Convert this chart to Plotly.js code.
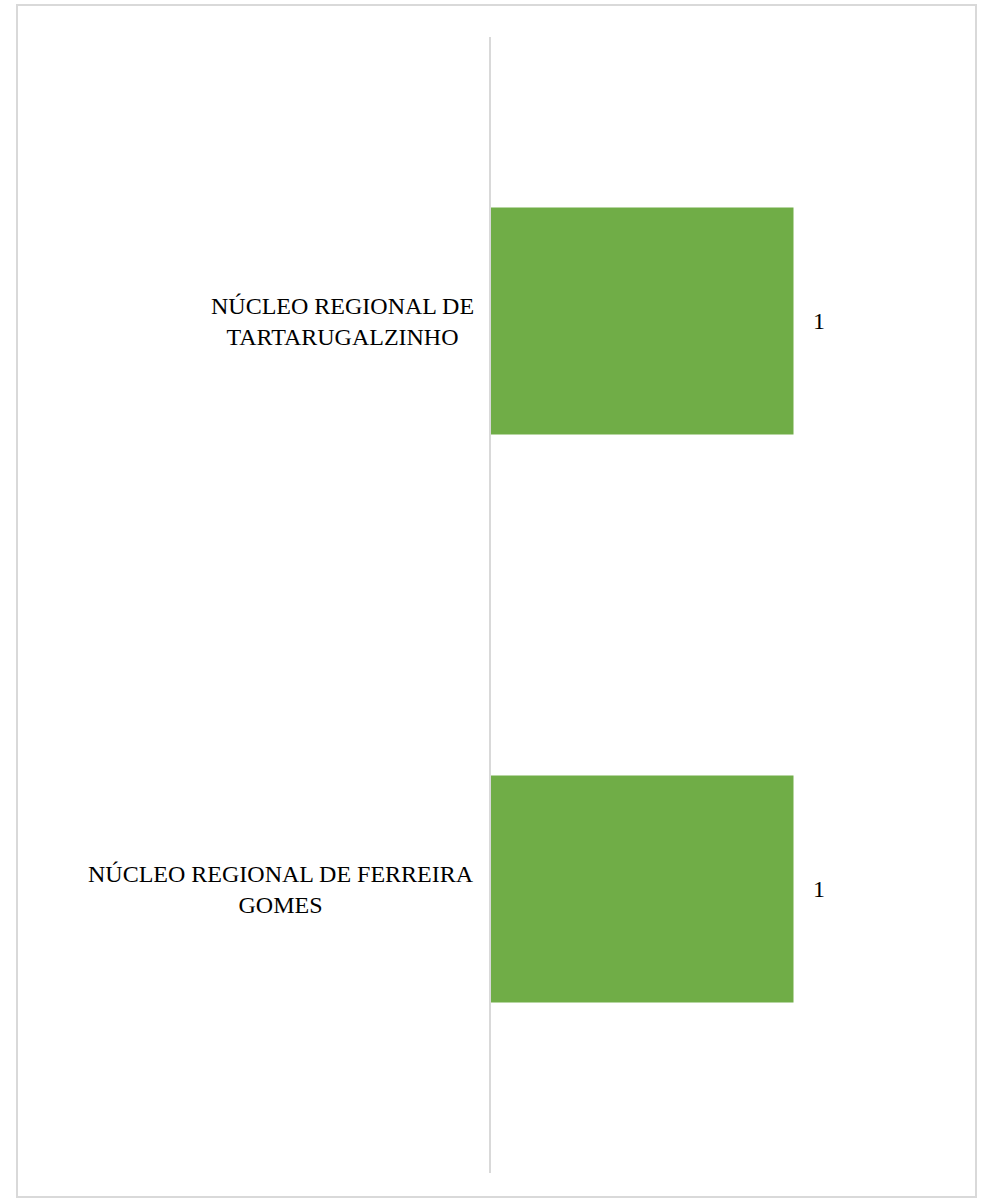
<!DOCTYPE html>
<html>
<head>
<meta charset="utf-8">
<script src="https://cdn.plot.ly/plotly-3.0.1.min.js"></script>
<style>
html,body{margin:0;padding:0;background:#fff;}
#wrap{position:relative;width:989px;height:1199px;}
#chart{position:absolute;left:0;top:0;width:989px;height:1199px;}
#frame{position:absolute;left:16px;top:4px;width:957px;height:1190px;border:2px solid #d9d9d9;pointer-events:none;}
</style>
</head>
<body>
<div id="wrap"><div id="chart"></div><div id="frame"></div></div>
<script>
// Data (bottom to top in Plotly order)
const categories = ["NÚCLEO REGIONAL DE FERREIRA GOMES", "NÚCLEO REGIONAL DE TARTARUGALZINHO"];
const categoryLabels = ["NÚCLEO REGIONAL DE FERREIRA<br>GOMES", "NÚCLEO REGIONAL DE<br>TARTARUGALZINHO"];
const values = [1, 1];
const valueLabels = ["1", "1"];

const serif = "'Liberation Serif', 'Times New Roman', serif";

const trace = {
  type: 'bar',
  orientation: 'h',
  y: categories,
  x: values,
  marker: {color: '#70AD47'},
  hoverinfo: 'none'
};

const annotations = [];
categories.forEach((c, i) => {
  annotations.push({
    xref: 'paper', yref: 'y', x: 0, y: c,
    xanchor: 'right', yanchor: 'middle', xshift: -15,
    text: categoryLabels[i], align: 'center', showarrow: false,
    font: {family: serif, size: 24, color: '#000'}
  });
  annotations.push({
    xref: 'x', yref: 'y', x: values[i], y: c,
    xanchor: 'left', yanchor: 'middle', xshift: 17,
    text: valueLabels[i], showarrow: false,
    font: {family: serif, size: 24, color: '#000'}
  });
});

const layout = {
  width: 989, height: 1199,
  margin: {l: 491, r: 14, t: 37, b: 26},
  paper_bgcolor: '#fff', plot_bgcolor: '#fff',
  bargap: 0.6,
  showlegend: false,
  xaxis: {range: [0, 1.6], showgrid: false, zeroline: false, showticklabels: false, showline: false, ticks: ''},
  yaxis: {type: 'category', showgrid: false, zeroline: false, showticklabels: false, ticks: '',
          showline: true, linecolor: '#d9d9d9', linewidth: 2},
  annotations: annotations
};

Plotly.newPlot('chart', [trace], layout, {displayModeBar: false, staticPlot: true});
</script>
</body>
</html>
